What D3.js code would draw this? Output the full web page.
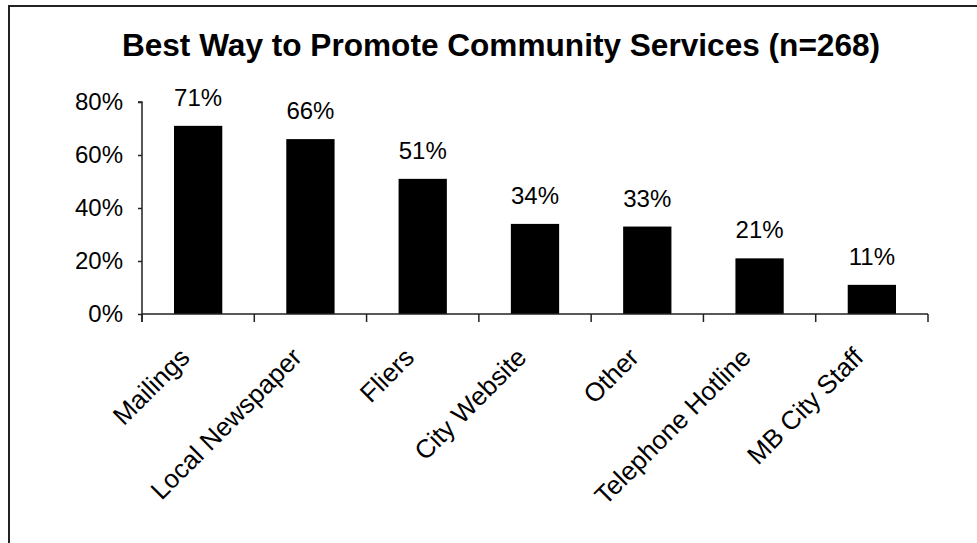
<!DOCTYPE html>
<html>
<head>
<meta charset="utf-8">
<script src="https://cdn.jsdelivr.net/npm/d3@7"></script>
<style>
  body { margin: 0; background: #fff; }
  svg { display: block; }
  text { font-family: "Liberation Sans", Arial, sans-serif; fill: #000; }
</style>
</head>
<body>
<svg id="chart"></svg>
<script>
// chart data
const categories = ["Mailings", "Local Newspaper", "Fliers", "City Website", "Other", "Telephone Hotline", "MB City Staff"];
const values = [0.71, 0.66, 0.51, 0.34, 0.33, 0.21, 0.11];
const yTicks = [0, 0.2, 0.4, 0.6, 0.8];
const title = "Best Way to Promote Community Services (n=268)";

const width = 977, height = 543;
const plot = {left: 142, right: 928, top: 102, bottom: 314};

const svg = d3.select("#chart")
    .attr("width", width)
    .attr("height", height);

// outer frame (right and bottom edges run off the picture)
svg.append("rect")
    .attr("x", 9).attr("y", 6)
    .attr("width", 1000).attr("height", 600)
    .attr("fill", "none")
    .attr("stroke", "#222")
    .attr("stroke-width", 2);

// title
svg.append("text")
    .attr("x", 501).attr("y", 56)
    .attr("text-anchor", "middle")
    .style("font-size", "31.6px")
    .style("font-weight", "bold")
    .text(title);

// scales
const x = d3.scaleBand()
    .domain(categories)
    .range([plot.left, plot.right])
    .paddingInner(0.57)
    .paddingOuter(0.285);

const y = d3.scaleLinear()
    .domain([0, 0.8])
    .range([plot.bottom, plot.top]);

// bars
svg.append("g")
    .selectAll("rect")
    .data(values)
    .enter()
    .append("rect")
    .attr("x", (d, i) => x(categories[i]))
    .attr("y", d => y(d))
    .attr("width", x.bandwidth())
    .attr("height", d => y(0) - y(d))
    .attr("fill", "#000");

// value labels
svg.append("g")
    .selectAll("text")
    .data(values)
    .enter()
    .append("text")
    .attr("x", (d, i) => x(categories[i]) + x.bandwidth() / 2)
    .attr("y", d => y(d) - 20)
    .attr("text-anchor", "middle")
    .style("font-size", "24px")
    .text(d => d3.format(".0%")(d));

// y axis
const yAxis = d3.axisLeft(y)
    .tickValues(yTicks)
    .tickFormat(d3.format(".0%"))
    .tickSize(4)
    .tickPadding(15);

const yg = svg.append("g")
    .attr("transform", "translate(" + plot.left + ",0)")
    .call(yAxis);
yg.select(".domain").attr("stroke", "#222").attr("stroke-width", 1.5)
    .attr("d", "M-4," + plot.top + "H0V" + (plot.bottom + 8));
yg.selectAll(".tick line").attr("stroke", "#222").attr("stroke-width", 1.5);
yg.selectAll(".tick text")
    .style("font-size", "24px")
    .style("font-family", "'Liberation Sans', Arial, sans-serif");

// x axis: ticks sit on the category boundaries
const step = x.step();
const boundaries = d3.range(categories.length + 1).map(i => plot.left + i * step);

const xg = svg.append("g");
xg.append("line")
    .attr("x1", plot.left).attr("x2", plot.right)
    .attr("y1", plot.bottom).attr("y2", plot.bottom)
    .attr("stroke", "#222").attr("stroke-width", 1.5);
xg.selectAll("line.tick")
    .data(boundaries)
    .enter()
    .append("line")
    .attr("class", "tick")
    .attr("x1", d => d).attr("x2", d => d)
    .attr("y1", plot.bottom).attr("y2", plot.bottom + 8)
    .attr("stroke", "#222").attr("stroke-width", 1.5);

// category labels, rotated
xg.selectAll("text")
    .data(categories)
    .enter()
    .append("text")
    .attr("transform", d => {
        const cx = x(d) + x.bandwidth() / 2 - 7;
        return "translate(" + cx + "," + (plot.bottom + 45) + ") rotate(-45)";
    })
    .attr("text-anchor", "end")
    .style("font-size", "26px")
    .text(d => d);
</script>
</body>
</html>
